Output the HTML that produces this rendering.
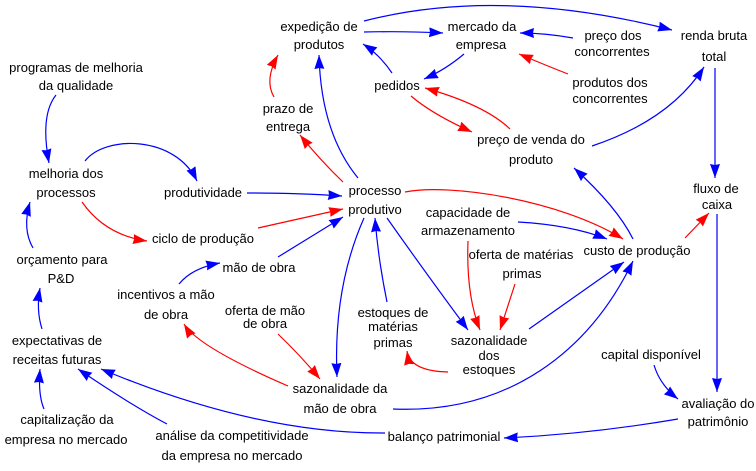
<!DOCTYPE html>
<html>
<head>
<meta charset="utf-8">
<style>
html,body{margin:0;padding:0;background:#fff;}
svg{display:block;}
text{font-family:"Liberation Sans",Arial,sans-serif;font-size:13px;fill:#000;text-anchor:middle;}
.b{stroke:#0000ff;stroke-width:1.2;fill:none;marker-end:url(#ab);}
.r{stroke:#ff0000;stroke-width:1.2;fill:none;marker-end:url(#ar);}
</style>
</head>
<body>
<svg width="756" height="471" viewBox="0 0 756 471" xmlns="http://www.w3.org/2000/svg">
<defs>
<marker id="ab" markerUnits="userSpaceOnUse" markerWidth="15" markerHeight="11" refX="14" refY="5" orient="auto">
<path d="M0,0 L14,5 L0,10 L1,5 z" fill="#0000ff"/>
</marker>
<marker id="ar" markerUnits="userSpaceOnUse" markerWidth="15" markerHeight="11" refX="14" refY="5" orient="auto">
<path d="M0,0 L14,5 L0,10 L1,5 z" fill="#ff0000"/>
</marker>
</defs>

<!-- connectors -->
<path class="b" d="M364,21 Q500,-14 672,30"/>
<path class="b" d="M364,32 Q405,31 443,33"/>
<path class="b" d="M573,38 Q545,33 520,33"/>
<path class="r" d="M568,74 Q545,65 519,54"/>
<path class="b" d="M464,54 Q445,70 424,79"/>
<path class="b" d="M392,73 Q380,55 363,44"/>
<path class="r" d="M411,96 Q432,114 472,132"/>
<path class="r" d="M510,129 Q485,105 425,88"/>
<path class="b" d="M592,146 Q670,120 704,67"/>
<path class="b" d="M715,68 L715,178"/>
<path class="b" d="M717,214 L717,392"/>
<path class="r" d="M685,238 L709,213"/>
<path class="b" d="M633,239 Q617,207 574,168"/>
<path class="r" d="M405,192 C450,183 560,200 623,239"/>
<path class="b" d="M518,222 Q571,225 607,239"/>
<path class="r" d="M468,241 Q466,295 480,330"/>
<path class="r" d="M515,284 L500,330"/>
<path class="b" d="M529,329 L624,262"/>
<path class="r" d="M448,372 Q410,371 407,351"/>
<path class="b" d="M387,218 Q425,272 468,330"/>
<path class="b" d="M387,302 Q378,258 375,218"/>
<path class="b" d="M364,218 Q333,288 337,377"/>
<path class="b" d="M247,193 Q300,193 342,196"/>
<path class="r" d="M258,228 L343,209"/>
<path class="b" d="M278,257 L343,217"/>
<path class="r" d="M343,182 Q320,160 300,135"/>
<path class="r" d="M274,97 Q264,80 278,55"/>
<path class="b" d="M358,178 Q321,133 319,55"/>
<path class="b" d="M56,95 Q40,115 49,163"/>
<path class="b" d="M85,161 C105,135 175,135 197,181"/>
<path class="r" d="M82,202 Q105,235 147,241"/>
<path class="b" d="M33,248 Q22,229 30,202"/>
<path class="b" d="M42,329 Q36,310 40,288"/>
<path class="b" d="M44,409 Q38,395 40,369"/>
<path class="b" d="M167,424 Q131,405 78,369"/>
<path class="b" d="M385,433 Q257,434 101,369"/>
<path class="b" d="M678,419 Q590,434 504,438"/>
<path class="b" d="M654,365 Q660,385 678,399"/>
<path class="b" d="M393,409 C510,414 590,350 633,261"/>
<path class="r" d="M288,386 Q198,347 184,324"/>
<path class="r" d="M278,334 Q300,355 320,379"/>
<path class="b" d="M179,284 Q192,268 220,263"/>

<!-- labels -->
<text x="319" y="31">expedição de</text>
<text x="319" y="49">produtos</text>
<text x="482" y="31">mercado da</text>
<text x="481" y="49">empresa</text>
<text x="613" y="40">preço dos</text>
<text x="612" y="56">concorrentes</text>
<text x="714" y="40">renda bruta</text>
<text x="714" y="61">total</text>
<text x="76" y="72">programas de melhoria</text>
<text x="76" y="90">da qualidade</text>
<text x="397" y="90">pedidos</text>
<text x="610" y="87">produtos dos</text>
<text x="610" y="103">concorrentes</text>
<text x="288" y="113">prazo de</text>
<text x="288" y="131">entrega</text>
<text x="531" y="144">preço de venda do</text>
<text x="531" y="164">produto</text>
<text x="66" y="178">melhoria dos</text>
<text x="66" y="197">processos</text>
<text x="203" y="197">produtividade</text>
<text x="375" y="195">processo</text>
<text x="375" y="214">produtivo</text>
<text x="716" y="193">fluxo de</text>
<text x="717" y="209">caixa</text>
<text x="468" y="217">capacidade de</text>
<text x="468" y="235">armazenamento</text>
<text x="203" y="243">ciclo de produção</text>
<text x="637" y="255">custo de produção</text>
<text x="521" y="259">oferta de matérias</text>
<text x="522" y="278">primas</text>
<text x="62" y="264">orçamento para</text>
<text x="61" y="283">P&amp;D</text>
<text x="259" y="272">mão de obra</text>
<text x="166" y="299">incentivos a mão</text>
<text x="166" y="319">de obra</text>
<text x="265" y="315">oferta de mão</text>
<text x="265" y="328">de obra</text>
<text x="393" y="317">estoques de</text>
<text x="393" y="331">matérias</text>
<text x="393" y="347">primas</text>
<text x="489" y="345">sazonalidade</text>
<text x="489" y="360">dos</text>
<text x="489" y="374">estoques</text>
<text x="57" y="345">expectativas de</text>
<text x="57" y="364">receitas futuras</text>
<text x="651" y="359">capital disponível</text>
<text x="340" y="393">sazonalidade da</text>
<text x="340" y="413">mão de obra</text>
<text x="718" y="408">avaliação do</text>
<text x="718" y="426">patrimônio</text>
<text x="67" y="424">capitalização da</text>
<text x="66" y="444">empresa no mercado</text>
<text x="232" y="440">análise da competitividade</text>
<text x="232" y="460">da empresa no mercado</text>
<text x="444" y="441">balanço patrimonial</text>
</svg>
</body>
</html>
